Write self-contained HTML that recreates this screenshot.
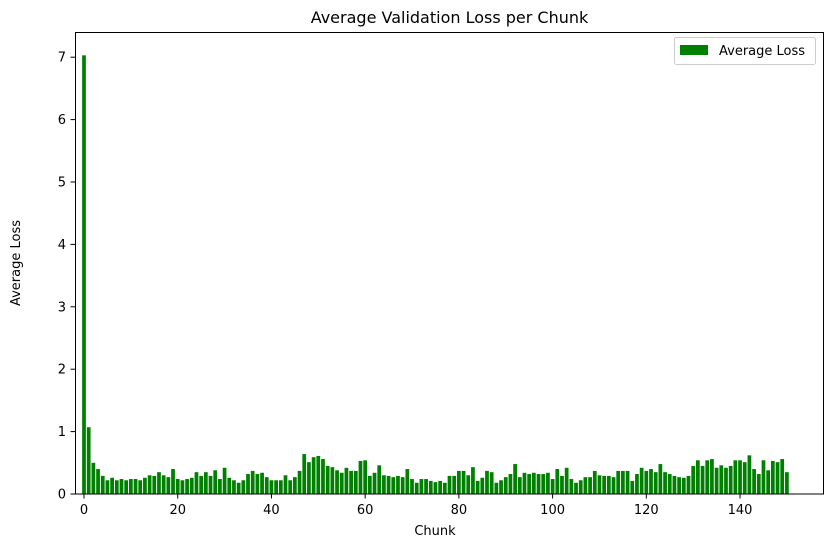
<!DOCTYPE html>
<html><head><meta charset="utf-8"><style>
body{margin:0;background:#fff}
svg{display:block;font-family:"DejaVu Sans","Liberation Sans",sans-serif}
</style></head><body>
<svg id="chart" width="833" height="547" viewBox="0 0 833 547" xmlns="http://www.w3.org/2000/svg">
<rect width="833" height="547" fill="#fff"/>
<text x="449.5" y="23" text-anchor="middle" font-size="16">Average Validation Loss per Chunk</text>
<g id="bars"></g>
<g id="xticks"></g>
<g id="yticks"></g>
<rect x="75.5" y="32.5" width="748" height="461.5" fill="none" stroke="#000" stroke-width="1"/>
<text x="435" y="535" text-anchor="middle" font-size="13">Chunk</text>
<text transform="translate(20,263) rotate(-90)" text-anchor="middle" font-size="13">Average Loss</text>
<g>
<rect x="674.5" y="37.5" width="141" height="27" rx="2" fill="#fff" stroke="#ccc"/>
<rect x="680" y="45" width="28" height="10" fill="#008000"/>
<text x="719" y="55" font-size="13">Average Loss</text>
</g>
</svg>
<script>
const chunks = Array.from({length:151},(_, i)=>i);
const losses = [7.03,1.07,0.50,0.40,0.29,0.22,0.26,0.22,0.24,0.22,0.24,0.24,0.22,0.26,0.30,0.29,0.35,0.30,0.27,0.40,
0.24,0.22,0.24,0.26,0.35,0.29,0.35,0.29,0.38,0.24,0.42,0.26,0.22,0.18,0.22,0.32,0.37,0.32,0.34,0.27,
0.22,0.22,0.22,0.30,0.22,0.27,0.37,0.64,0.51,0.59,0.61,0.56,0.45,0.43,0.38,0.34,0.42,0.37,0.37,0.53,
0.54,0.29,0.34,0.46,0.30,0.29,0.27,0.29,0.27,0.40,0.24,0.18,0.24,0.24,0.21,0.19,0.21,0.18,0.29,0.29,
0.37,0.37,0.30,0.43,0.21,0.26,0.37,0.35,0.18,0.22,0.27,0.32,0.48,0.27,0.34,0.32,0.34,0.32,0.32,0.34,
0.24,0.40,0.29,0.42,0.24,0.18,0.22,0.27,0.27,0.37,0.30,0.29,0.29,0.27,0.37,0.37,0.37,0.21,0.32,0.42,
0.37,0.40,0.35,0.48,0.35,0.32,0.29,0.27,0.26,0.29,0.45,0.54,0.45,0.54,0.56,0.42,0.46,0.42,0.45,0.54,
0.54,0.51,0.62,0.40,0.32,0.54,0.38,0.53,0.51,0.56,0.35];
const xTicks = [0,20,40,60,80,100,120,140];
const yTicks = [0,1,2,3,4,5,6,7];
const NS="http://www.w3.org/2000/svg";
const xs = v => 84 + v*4.686;
const ys = v => 494 - v*62.4;
const bars=document.getElementById('bars');
chunks.forEach((c,i)=>{
  const r=document.createElementNS(NS,'rect');
  
  
  const w=0.8*4.686;
  r.setAttribute('x',xs(c)-w/2);r.setAttribute('width',w);
  r.setAttribute('y',ys(losses[i]));r.setAttribute('height',ys(0)-ys(losses[i]));
  r.setAttribute('fill','#008000');
  bars.appendChild(r);
});
const xg=document.getElementById('xticks');
xTicks.forEach(t=>{
  const l=document.createElementNS(NS,'line');
  
  
  l.setAttribute('x1',xs(t));l.setAttribute('x2',xs(t));l.setAttribute('y1',494);l.setAttribute('y2',498.5);l.setAttribute('stroke','#000');
  xg.appendChild(l);
  const tx=document.createElementNS(NS,'text');
  
  
  tx.setAttribute('x',xs(t));tx.setAttribute('y',514);tx.setAttribute('text-anchor','middle');tx.setAttribute('font-size','13');
  tx.textContent=t;xg.appendChild(tx);
});
const yg=document.getElementById('yticks');
yTicks.forEach(t=>{
  const l=document.createElementNS(NS,'line');
  
  
  l.setAttribute('x1',70.5);l.setAttribute('x2',75);l.setAttribute('y1',ys(t));l.setAttribute('y2',ys(t));l.setAttribute('stroke','#000');
  yg.appendChild(l);
  const tx=document.createElementNS(NS,'text');
  
  
  tx.setAttribute('x',66);tx.setAttribute('y',ys(t)+4.5);tx.setAttribute('text-anchor','end');tx.setAttribute('font-size','13');
  tx.textContent=t;yg.appendChild(tx);
});
</script>
</body></html>
